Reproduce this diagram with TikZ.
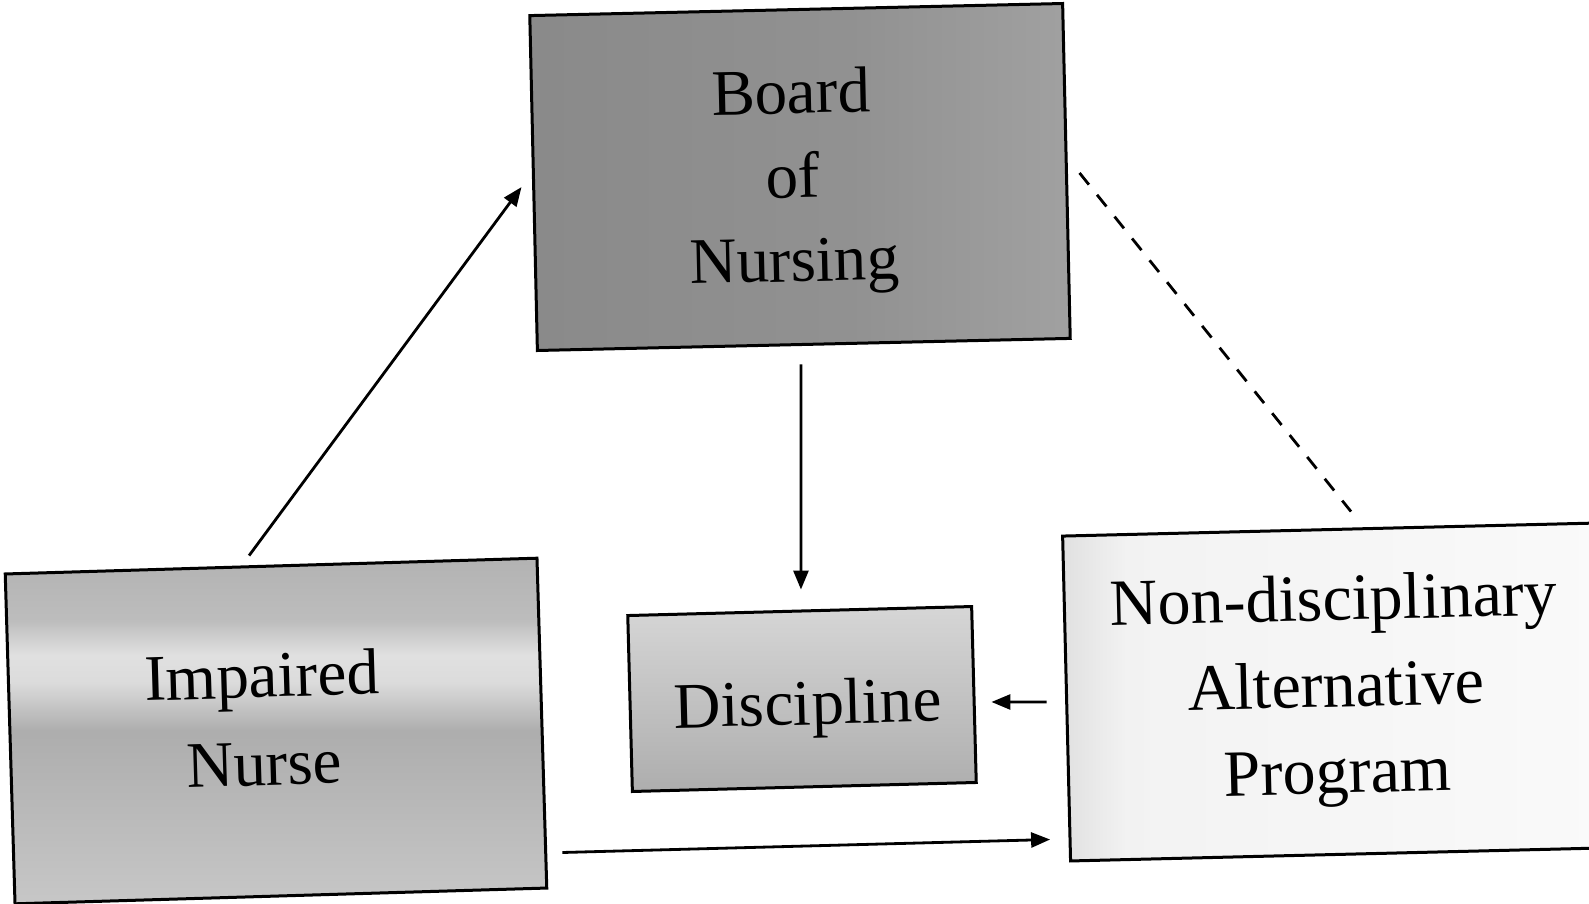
\documentclass[tikz,border=0pt]{standalone}
\usepackage{fontspec}
\setmainfont{Liberation Serif}
\usetikzlibrary{arrows.meta,calc}

% Shadings for the halftone-filled boxes (central 50bp band covers the box)
\pgfdeclareverticalshading{nursefill}{100bp}{%
  color(0bp)=(black!24); color(25bp)=(black!22); color(50bp)=(black!32);
  color(57bp)=(black!14); color(61bp)=(black!12); color(66bp)=(black!26);
  color(75bp)=(black!30); color(100bp)=(black!30)}
\pgfdeclarehorizontalshading{boardfill}{100bp}{%
  color(0bp)=(black!46); color(25bp)=(black!46); color(55bp)=(black!43);
  color(75bp)=(black!37); color(100bp)=(black!37)}
\pgfdeclareverticalshading{disciplinefill}{100bp}{%
  color(0bp)=(black!32); color(25bp)=(black!32); color(50bp)=(black!24);
  color(75bp)=(black!16); color(100bp)=(black!16)}
\pgfdeclarehorizontalshading{programfill}{100bp}{%
  color(0bp)=(black!12); color(25bp)=(black!12); color(31bp)=(black!5);
  color(75bp)=(black!2); color(100bp)=(black!2)}

\tikzset{
  box/.style={draw=black, line width=3pt, inner sep=0pt, rectangle},
  boxtext/.style={align=center, inner sep=0pt, text=black},
  bigserif/.style={font=\fontsize{65}{84}\selectfont},
  link/.style={line width=2.8pt, -{Triangle[length=19pt,width=15pt]}},
  weaklink/.style={line width=2.8pt, dash pattern=on 15pt off 13pt}
}

\begin{document}
\begin{tikzpicture}[x=1pt,y=-1pt]
  \useasboundingbox (0,0) rectangle (1589,903);
  \clip (0,0) rectangle (1589,903);
  \fill[white] (0,0) rectangle (1589,903);

  % boxes
  \node[box, shading=boardfill, minimum width=533pt, minimum height=335pt,
        rotate=1.3] (board) at (800,177) {};
  \node[box, shading=nursefill, minimum width=532pt, minimum height=330pt,
        rotate=1.7] (nurse) at (276,731) {};
  \node[box, shading=disciplinefill, minimum width=344pt, minimum height=176pt,
        rotate=1.5] (disc) at (802,699) {};
  \node[box, shading=programfill, minimum width=533pt, minimum height=325pt,
        rotate=1.4] (prog) at (1333,692) {};

  % labels
  \node[boxtext, bigserif, rotate=1.3] (boardtxt) at (793,182)
       {Board\\of\\Nursing};
  \node[boxtext, font=\fontsize{65}{88}\selectfont, rotate=1.7] (nursetxt)
       at (263,719) {Impaired\\Nurse};
  \node[boxtext, bigserif, rotate=1.5] (disctxt) at (808,709)
       {Discipline};
  \node[boxtext, font=\fontsize{66}{86.5}\selectfont, rotate=1.4] (progtxt)
       at (1336,691) {Non-disciplinary\\Alternative\\Program};

  % connectors
  \draw[link] ($(nurse.north)+(-22,-9)$) -- ($(board.west)+(-10.6,4)$);
  \draw[link] ($(board.south)+(-2.8,18.5)$) -- ($(disc.north)+(1.3,-20)$);
  \draw[link] ($(prog.west)+(-18.5,3.5)$) -- ($(disc.east)+(16,7.5)$);
  \draw[link] ($(nurse.south east)+(14,-37)$) -- ($(prog.south west)+(-19,-23)$);
  \draw[weaklink] ($(board.east)+(11.6,2)$) -- ($(prog.north)+(22,-16.5)$);
\end{tikzpicture}
\end{document}
